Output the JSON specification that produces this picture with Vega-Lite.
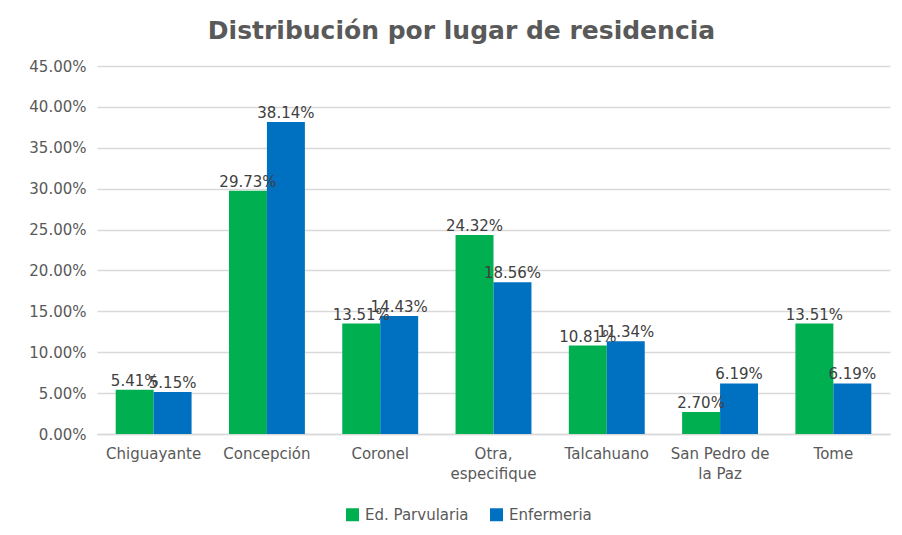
{
  "$schema": "https://vega.github.io/schema/vega-lite/v6.json",
  "width": 793,
  "height": 368,
  "autosize": {"type": "none"},
  "padding": {"left": 97, "top": 66, "right": 12, "bottom": 101},
  "background": "white",
  "title": {
    "text": "Distribución por lugar de residencia",
    "fontSize": 25,
    "font": "DejaVu Sans",
    "fontWeight": "bold",
    "color": "#595959",
    "anchor": "middle",
    "dx": -32,
    "offset": 15
  },
  "config": {
    "view": {"stroke": null},
    "font": "DejaVu Sans"
  },
  "data": {
    "values": [
      {"lugar": "Chiguayante", "carrera": "Ed. Parvularia", "valor": 0.0541},
      {"lugar": "Chiguayante", "carrera": "Enfermeria", "valor": 0.0515},
      {"lugar": "Concepción", "carrera": "Ed. Parvularia", "valor": 0.2973},
      {"lugar": "Concepción", "carrera": "Enfermeria", "valor": 0.3814},
      {"lugar": "Coronel", "carrera": "Ed. Parvularia", "valor": 0.1351},
      {"lugar": "Coronel", "carrera": "Enfermeria", "valor": 0.1443},
      {"lugar": "Otra, especifique", "carrera": "Ed. Parvularia", "valor": 0.2432},
      {"lugar": "Otra, especifique", "carrera": "Enfermeria", "valor": 0.1856},
      {"lugar": "Talcahuano", "carrera": "Ed. Parvularia", "valor": 0.1081},
      {"lugar": "Talcahuano", "carrera": "Enfermeria", "valor": 0.1134},
      {"lugar": "San Pedro de la Paz", "carrera": "Ed. Parvularia", "valor": 0.027},
      {"lugar": "San Pedro de la Paz", "carrera": "Enfermeria", "valor": 0.0619},
      {"lugar": "Tome", "carrera": "Ed. Parvularia", "valor": 0.1351},
      {"lugar": "Tome", "carrera": "Enfermeria", "valor": 0.0619}
    ]
  },
  "encoding": {
    "x": {
      "field": "lugar",
      "type": "nominal",
      "sort": null,
      "scale": {"paddingInner": 0.33, "paddingOuter": 0.165},
      "axis": {
        "title": null,
        "labelAngle": 0,
        "labelFontSize": 15,
        "labelColor": "#595959",
        "labelPadding": 12,
        "ticks": false,
        "domainColor": "#d9d9d9",
        "domainWidth": 1.5,
        "labelExpr": "datum.value == 'Otra, especifique' ? ['Otra,', 'especifique'] : datum.value == 'San Pedro de la Paz' ? ['San Pedro de', 'la Paz'] : datum.value",
        "labelLineHeight": 20
      }
    },
    "xOffset": {"field": "carrera", "type": "nominal"},
    "y": {
      "field": "valor",
      "type": "quantitative",
      "scale": {"domain": [0, 0.45]},
      "axis": {
        "title": null,
        "format": ".2%",
        "values": [0, 0.05, 0.1, 0.15, 0.2, 0.25, 0.3, 0.35, 0.4, 0.45],
        "labelFontSize": 15,
        "labelColor": "#595959",
        "labelPadding": 11,
        "ticks": false,
        "domain": false,
        "gridColor": "#d9d9d9",
        "gridWidth": 1.5
      }
    }
  },
  "layer": [
    {
      "mark": {"type": "bar"},
      "encoding": {
        "color": {
          "field": "carrera",
          "type": "nominal",
          "scale": {"domain": ["Ed. Parvularia", "Enfermeria"], "range": ["#00B050", "#0070C0"]},
          "legend": {
            "title": null,
            "orient": "none",
            "direction": "horizontal",
            "legendX": 248,
            "legendY": 441,
            "symbolType": "square",
            "symbolSize": 169,
            "symbolStrokeWidth": 0,
            "labelFontSize": 15,
            "labelColor": "#595959",
            "labelOffset": 5,
            "columnPadding": 20
          }
        }
      }
    },
    {
      "mark": {"type": "text", "dy": -9, "fontSize": 15, "color": "#404040"},
      "encoding": {
        "text": {"field": "valor", "type": "quantitative", "format": ".2%"}
      }
    }
  ]
}
